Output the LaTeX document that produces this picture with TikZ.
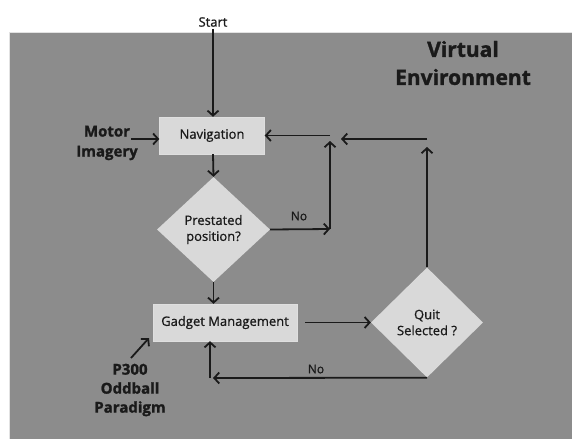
\documentclass[tikz,border=0pt]{standalone}
\usepackage{fontspec}
\setmainfont{Open Sans}
\newfontfamily\medfont{Open Sans}[FakeBold=0.9]
\newfontfamily\heavyfont{Open Sans}[BoldFeatures={FakeBold=1.4}]
\usetikzlibrary{shapes.geometric,arrows.meta}
\definecolor{bggray}{HTML}{8C8C8C}
\definecolor{boxgray}{HTML}{D9D9D9}
\definecolor{ink}{HTML}{1A1A1A}
\tikzset{
  arr/.style={draw=ink, line width=1.8pt, -{Straight Barb[length=5pt,width=11pt]}},
  boxnode/.style={rectangle, fill=boxgray, draw=boxgray!85!white, inner sep=0pt, font=\fontsize{13}{15}\selectfont\medfont, text=ink},
  decision/.style={diamond, fill=boxgray, inner sep=0pt, align=center, font=\fontsize{13}{16}\selectfont\medfont, text=ink},
  biglabel/.style={align=center, font=\fontsize{15}{20}\selectfont\heavyfont\bfseries, text=ink, inner sep=0pt},
  smalllabel/.style={font=\fontsize{12}{13}\selectfont\medfont, text=ink, inner sep=1pt}
}
\begin{document}
\begin{tikzpicture}[x=1pt,y=-1pt]
\useasboundingbox (0,0) rectangle (572,439);
\fill[white] (0,0) rectangle (572,439);
\fill[bggray] (9,32) rectangle (572,439);
\draw[white!75!bggray, line width=1pt] (9,439) -- (9,32) -- (572,32);

% nodes
\node[font=\fontsize{13}{15}\selectfont\medfont, text=ink, inner sep=2pt] (start) at (213,22) {Start};
\node[boxnode, minimum width=105pt, minimum height=37pt] (nav) at (212,135.5) {Navigation};
\node[decision, minimum width=113pt, minimum height=105pt] (pre) at (213.5,229.5) {Prestated\\position?};
\node[boxnode, minimum width=144pt, minimum height=37pt] (gad) at (225,322.5) {Gadget Management};
\node[decision, minimum width=112pt, minimum height=110pt] (quit) at (427,322.5) {Quit\\Selected ?};

\node[align=center, font=\fontsize{21}{28}\selectfont\heavyfont\bfseries, text=ink, inner sep=0pt] (ve) at (463,63) {Virtual\\Environment};
\node[biglabel] (motor) at (107,143) {Motor\\Imagery};
\node[biglabel, font=\fontsize{15}{19}\selectfont\heavyfont\bfseries] (p300) at (130,390) {P300\\Oddball\\Paradigm};

\node[smalllabel] (no1) at (299,216) {No};
\node[smalllabel] (no2) at (316,369) {No};

% helper coordinates
\coordinate (j1) at (330,229);
\coordinate (j1top) at (330,141);
\coordinate (j1r) at (341,139);
\coordinate (j2) at (427,139);
\coordinate (j2top) at (427,147);
\coordinate (j3) at (213,378);
\coordinate (j4) at (210,378);
\coordinate (motorend) at (131,139);
\coordinate (p300end) at (131,358);
\coordinate (p300tip) at (149,338);
\coordinate (gadout) at (305,322.5);

% connectors
\draw[arr] (start.south) -- (nav.north -| start.south);
\draw[arr] (motorend) -- (nav.west |- motorend);
\draw[arr] (nav.south -| start.south) -- (pre.north);
\draw[arr] (pre.east) -- (j1);
\draw[arr] (j1) -- (j1top);
\draw[arr] (j1 |- nav.east) -- (nav.east);
\draw[arr] (j2) -- (j1r);
\draw[arr] (quit.north) -- (j2top);
\draw[arr] (pre.south) -- (pre.south |- gad.north);
\draw[arr] (gadout) -- (quit.west);
\draw[arr] (quit.south) -- (j3);
\draw[arr] (j4) -- (j4 |- gad.south);
\draw[arr] (p300end) -- (p300tip);
\end{tikzpicture}
\end{document}
